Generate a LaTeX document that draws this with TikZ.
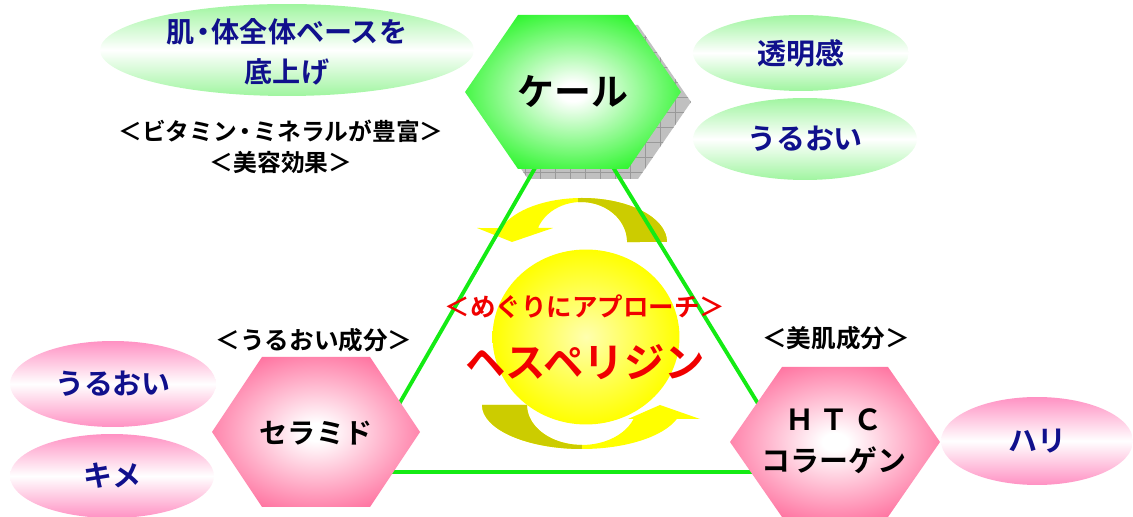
\documentclass[tikz,border=0pt]{standalone}
\usepackage{fontspec}
\setmainfont{Noto Sans CJK JP}[BoldFont=* Bold]
\usetikzlibrary{shapes.geometric}
\definecolor{navytext}{RGB}{16,16,140}
\definecolor{kalegreen}{RGB}{30,245,30}
\definecolor{hexpink}{RGB}{255,100,150}
\definecolor{leafgreen}{RGB}{160,245,160}
\definecolor{leafpink}{RGB}{255,145,195}
\definecolor{trigreen}{RGB}{20,235,20}
\definecolor{arrowyellow}{RGB}{255,255,0}
\definecolor{arrowolive}{RGB}{204,204,0}
\definecolor{sunpale}{RGB}{255,255,175}
\definecolor{shadowgray}{RGB}{192,192,192}
\definecolor{hesred}{RGB}{240,0,0}
\pgfdeclareradialshading{kaleglow}{\pgfpoint{0bp}{0bp}}{color(0bp)=(white); color(3bp)=(white); color(30bp)=(kalegreen); color(50bp)=(kalegreen)}
\pgfdeclareradialshading{pinkglow}{\pgfpoint{0bp}{0bp}}{color(0bp)=(white); color(3bp)=(white); color(31bp)=(hexpink); color(50bp)=(hexpink)}
\newcommand{\hexshape}[5]{(#1-#3,#2) -- (#1-#4,#2+#5) -- (#1+#4,#2+#5) -- (#1+#3,#2) -- (#1+#4,#2-#5) -- (#1-#4,#2-#5) -- cycle}
\newcommand{\jpsize}[2]{\fontsize{#1pt}{#2pt}\selectfont}
\tikzset{
	tri/.style = {draw=trigreen, line width=2.2pt, line join=round},
	hexlabel/.style = {inner sep=0, align=center, font=\bfseries\jpsize{16}{22}},
	leaf/.style = {ellipse, inner sep=0, text=navytext, font=\bfseries\jpsize{16.5}{22}},
	greenleaf/.style = {leaf, top color=leafgreen, bottom color=leafgreen, middle color=white},
	pinkleaf/.style = {leaf, top color=leafpink, bottom color=leafpink, middle color=white},
	note/.style = {inner sep=0, align=center, font=\bfseries\jpsize{14}{18}},
}

\begin{document}
\begin{tikzpicture}[x=0.02cm, y=0.02cm]
	\useasboundingbox (0,0) rectangle (1133,517);
	
	\fill[shadowgray, path picture={\draw[black!40, very thin] (460,320) grid[step=0.3cm] (710,510);}] \hexshape{583}{415}{108}{55}{77};
	
	\path[fill=arrowyellow, path picture={\fill[arrowolive] (578,250) rectangle (700,320);}]
		(667,275) arc[start angle=0, end angle=161.5, x radius=85, y radius=44] -- (477,289) -- (512,275) -- (553,289) -- (538,289) arc[start angle=159.5, end angle=0, x radius=46, y radius=40] -- cycle;
	\path[fill=arrowyellow, path picture={\fill[arrowolive] (460,40) rectangle (582,130);}]
		(482,112) arc[start angle=180, end angle=341.5, x radius=100, y radius=44] -- (700,98) -- (660,112) -- (628,98) -- (633.5,98) arc[start angle=339.5, end angle=180, x radius=55, y radius=40] -- cycle;
	\node[ellipse, minimum width=3.74cm, minimum height=3.5cm, inner color=sunpale, outer color=arrowyellow] (sun) at (586,180) {};
	
	\coordinate (apex) at (573,415);
	\coordinate (lowleft) at (360,45);
	\coordinate (lowright) at (800,45);
	\draw[tri] (apex) -- (lowleft) -- (lowright) -- cycle;
	
	\node[greenleaf, minimum width=7.48cm, minimum height=1.84cm] (base) at (287,467) {};
	\node[greenleaf, minimum width=4.32cm, minimum height=1.52cm] (clear) at (801,464) {透明感};
	\node[greenleaf, minimum width=4.48cm, minimum height=1.64cm] (moistup) at (805,378) {うるおい};
	\node[pinkleaf, minimum width=4.12cm, minimum height=1.72cm] (moistlow) at (113,133) {うるおい};
	\node[pinkleaf, minimum width=4.08cm, minimum height=1.68cm] (texture) at (112,41) {キメ};
	\node[pinkleaf, minimum width=3.84cm, minimum height=1.76cm] (firm) at (1037,76) {ハリ};
	
	\shade[shading=kaleglow] \hexshape{573}{425}{108}{55}{77};
	\shade[shading=pinkglow] \hexshape{316}{85}{104}{54}{75};
	\shade[shading=pinkglow] \hexshape{835}{75}{105}{53}{75};
	
	\node[hexlabel, font=\bfseries\jpsize{21}{26}] (kale) at (573,425) {ケール};
	\node[hexlabel] (ceramide) at (316,84) {セラミド};
	\node[hexlabel, font=\bfseries\jpsize{16.5}{23.5}] (collagen) at (834,76) {Ｈ\hspace{3pt}Ｔ\hspace{3pt}Ｃ\\コラーゲン};
	
	\node[leaf, align=center, font=\bfseries\jpsize{16}{22.5}] (basetext) at (287,465) {肌\kern-0.2em・\kern-0.2em体全体ベースを\\底上げ};
	\node[note, font=\bfseries\jpsize{13.5}{17.5}] (vitamin) at (281,370) {＜ビタミン\kern-0.15em・\kern-0.15emミネラルが豊富＞\\＜美容効果＞};
	\node[note] (moistpart) at (314,177) {＜うるおい成分＞};
	\node[note] (skinpart) at (836,179) {＜美肌成分＞};
	
	\node[note, text=hesred, font=\bfseries\jpsize{14.5}{18}] (approach) at (585,210) {＜めぐりにアプローチ＞};
	\node[note, text=hesred, font=\bfseries\jpsize{23}{28}] (hesperidin) at (585,155) {ヘスペリジン};
\end{tikzpicture}
\end{document}
